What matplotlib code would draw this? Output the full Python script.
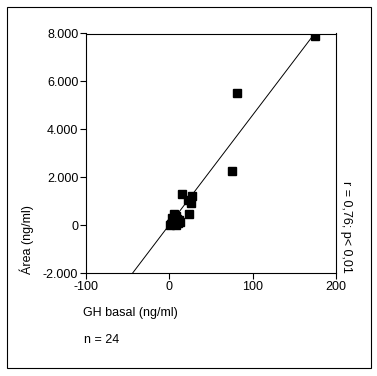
import matplotlib
matplotlib.use("Agg")
import matplotlib.pyplot as plt
from matplotlib.patches import Rectangle
import numpy as np

plt.rcParams['font.family'] = ['Liberation Sans', 'DejaVu Sans']

gh_basal = [175, 81.6, 74.9, 15.6, 27.6, 22, 25.7, 24,
            2, 3, 4, 5, 5, 6, 7, 8, 9, 10, 12, 13, 1, 3, 6, 8]
area = [7900, 5500, 2250, 1300, 1200, 1050, 930, 480,
        50, 100, 200, 30, 450, 300, 150, 400, 250, 100, 200, 150, 20, 300, 50, 20]
fit_slope = 45.8
fit_intercept = 15
fit_x_range = [-44, 172.6]

xticks = [-100, 0, 100, 200]
yticks = [-2000, 0, 2000, 4000, 6000, 8000]
ytick_labels = ["-2.000", "0", "2.000", "4.000", "6.000", "8.000"]

fig = plt.figure(figsize=(3.77, 3.76), dpi=100)
ax = fig.add_axes([86/377, 1-273/376, 250/377, 239.5/376])

fx = np.array(fit_x_range)
ax.plot(fx, fit_slope*fx + fit_intercept, color='black', lw=0.7, zorder=2)
ax.plot(gh_basal, area, 's', color='black', ms=6, mec='black', zorder=3)

ax.set_xlim(-100, 200)
ax.set_ylim(-2000, 8000)
ax.set_xticks(xticks)
ax.set_xticklabels([str(t) for t in xticks])
ax.set_yticks(yticks)
ax.set_yticklabels(ytick_labels)
ax.tick_params(direction='out', length=4, width=0.8, labelsize=9, pad=1.5, colors='black')
for s in ax.spines.values():
    s.set_linewidth(0.8)

fig.text(27/377, 1-240/376, "Área (ng/ml)", rotation=90, ha='center', va='center', fontsize=9)
fig.text(83/377, 1-313/376, "GH basal (ng/ml)", ha='left', va='center', fontsize=9)
fig.text(84/377, 1-340/376, "n = 24", ha='left', va='center', fontsize=9)
fig.text(346/377, 1-227/376, "r = 0,76; p< 0,01", rotation=-90, ha='center', va='center', fontsize=9)

fig.patches.append(Rectangle((7/377, 1-368/376), 364/377, 361/376, transform=fig.transFigure,
                             fill=False, edgecolor='black', lw=0.8))

fig.savefig("out.png", dpi=100)
